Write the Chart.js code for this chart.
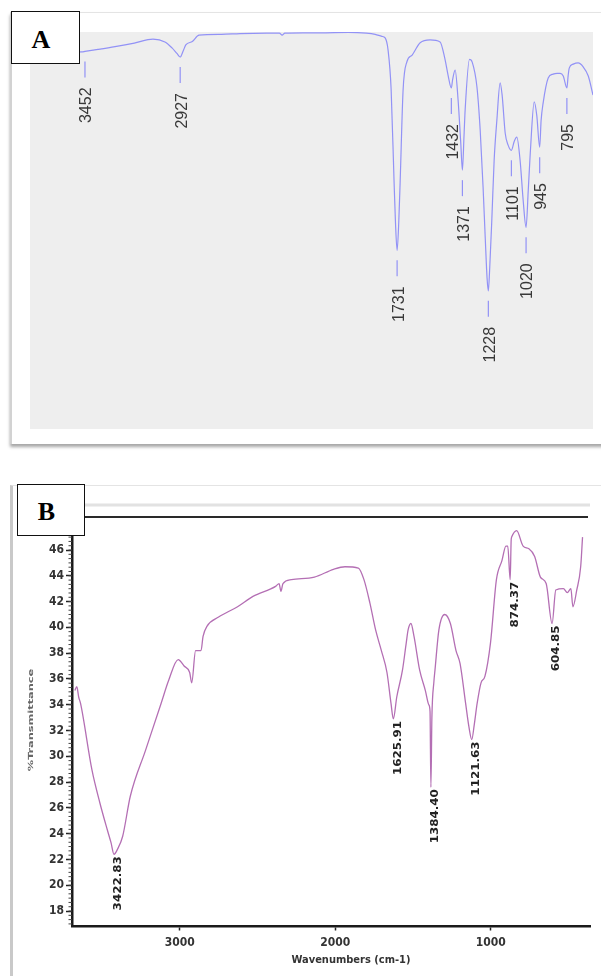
<!DOCTYPE html>
<html>
<head>
<meta charset="utf-8">
<script src="https://cdn.jsdelivr.net/npm/chart.js@4.4.1/dist/chart.umd.min.js"></script>
<style>
  html, body { margin: 0; padding: 0; background: #fff; overflow: hidden; }
  body { width: 601px; height: 976px; position: relative; }
  .card { position: absolute; background: #fff; }
  #cardA { left: 10px; top: 12px; width: 600px; height: 431px; border-top: 1px solid #e4e4e4; border-left: 2px solid #d2d2d2; box-shadow: 0 3px 3px rgba(0,0,0,0.35); }
  #cardB { left: 10px; top: 485px; width: 600px; height: 500px; border-top: 1px solid #e4e4e4; border-left: 3px solid #c9c9c9; }
  .tag { position: absolute; z-index: 5; background: #fff; border: 1.5px solid #111; box-sizing: border-box;
         font: bold 26px 'Liberation Serif', 'Times New Roman', serif; color: #000;
         display: flex; align-items: center; justify-content: center; padding-right: 9px; }
  #tagA { left: 11px; top: 11px; width: 69px; height: 53px; padding-top: 4px; }
  #tagB { left: 17px; top: 484px; width: 68px; height: 52px; padding-top: 4px; }
  #wrapA { position: absolute; left: 30px; top: 32px; width: 563px; height: 397px; background: #eeeeee; }
  #wrapB { position: absolute; left: 0; top: 490px; width: 601px; height: 486px; }
</style>
</head>
<body>
<div class="card" id="cardA"></div>
<div class="card" id="cardB"></div>
<div id="wrapA"><canvas id="chartA"></canvas></div>
<div id="wrapB"><canvas id="chartB"></canvas></div>
<div class="tag" id="tagA">A</div>
<div class="tag" id="tagB">B</div>

<script>
// Espectro A (transmitancia relativa, eje sin escala)
const wnA = [3755, 3600, 3468, 3452, 3380, 3286, 3180, 3077, 3011, 2972, 2945, 2927, 2910, 2895, 2860, 2823,
  2700, 2597, 2450, 2380, 2365, 2350, 2250, 2156, 2000, 1900, 1852, 1815, 1797, 1781, 1764, 1748, 1740, 1731,
  1722, 1714, 1698, 1677, 1648, 1604, 1549, 1494, 1466, 1450, 1432, 1425, 1411, 1395, 1380, 1371, 1362, 1356,
  1332, 1317, 1291, 1273, 1257, 1245, 1235, 1228, 1221, 1209, 1196, 1181, 1163, 1152, 1135, 1119, 1101, 1085,
  1071, 1053, 1036, 1020, 1008, 997, 975, 961, 945, 937, 926, 898, 871, 849, 832, 815, 795, 788, 782, 760,
  733, 705, 677, 651];
const tA = [94.7, 94.9, 95.0, 95.1, 95.6, 96.3, 97.2, 98.2, 97.5, 96.0, 94.6, 93.7, 95.3, 96.8, 97.6, 99.2,
  99.4, 99.6, 99.7, 99.7, 99.2, 99.7, 99.8, 99.8, 99.9, 99.7, 99.4, 98.9, 98.5, 95.5, 85.6, 62.6, 52.0, 45.0,
  52.0, 62.6, 85.4, 92.5, 94.2, 97.3, 98.0, 97.5, 92.9, 89.1, 85.9, 88.0, 90.4, 83.0, 72.0, 65.2, 74.0, 80.3,
  93.1, 92.4, 86.2, 75.3, 60.9, 48.0, 38.0, 34.8, 40.0, 52.5, 67.7, 77.8, 87.2, 84.1, 74.5, 71.5, 70.2, 72.5,
  73.5, 67.7, 57.6, 50.8, 60.1, 69.4, 82.4, 79.0, 71.0, 77.8, 82.1, 88.4, 89.4, 89.6, 89.6, 88.9, 85.9, 89.0,
  90.9, 91.9, 92.2, 91.2, 88.9, 84.1];
const peaksA = [3452, 2927, 1731, 1432, 1371, 1228, 1101, 1020, 945, 795];
const peakLabelsA = ['3452', '2927', '1731', '1432', '1371', '1228', '1101', '1020', '945', '795'];

// Espectro B (%T)
const wnB = [3675, 3662, 3650, 3638, 3564, 3514, 3466, 3442, 3422.83, 3400, 3367, 3318, 3219, 3120, 3071, 3010,
  2972, 2936, 2923, 2898, 2863, 2850, 2824, 2750, 2628, 2529, 2381, 2361, 2349, 2336, 2282, 2134, 2011, 1937,
  1851, 1815, 1777, 1740, 1703, 1667, 1641, 1625.91, 1604, 1567, 1543, 1531, 1513, 1493, 1457, 1420, 1398,
  1390, 1384.40, 1378, 1365, 1358, 1333, 1296, 1259, 1223, 1197, 1161, 1140, 1121.63, 1105, 1087, 1062, 1037,
  1001, 963, 927, 902, 890, 874.37, 868, 865, 833, 791, 754, 717, 680, 643, 604.85, 581, 532, 507, 484, 471,
  446, 421, 409];
const tB = [35.1, 35.4, 34.6, 34.1, 28.9, 26.4, 24.3, 23.3, 22.4, 22.8, 23.8, 26.9, 30.5, 34.1, 35.9, 37.5,
  37.0, 36.5, 35.7, 38.2, 38.2, 39.3, 40.1, 40.8, 41.6, 42.4, 43.2, 43.4, 42.8, 43.4, 43.7, 43.9, 44.5, 44.7,
  44.6, 43.7, 41.9, 39.8, 38.2, 36.5, 34.1, 32.9, 34.6, 36.7, 38.8, 39.8, 40.3, 39.3, 36.7, 35.1, 34.0,
  33.5, 27.6, 33.0, 35.8, 36.7, 39.8, 41.0, 40.3, 38.2, 37.2, 34.1, 32.3, 31.3, 32.5, 34.1, 35.7, 36.2,
  38.8, 43.7, 45.2, 46.3, 46.3, 43.7, 46.8, 47.0, 47.5, 46.3, 46.1, 45.5, 43.9, 43.4, 40.3, 42.9, 43.0, 42.7, 43.0, 41.6,
  42.9, 44.7, 47.0];
const peaksB = [3422.83, 1625.91, 1384.40, 1121.63, 874.37, 604.85];
const peakLabelsB = ['3422.83', '1625.91', '1384.40', '1121.63', '874.37', '604.85'];
const yTicksB = [18, 20, 22, 24, 26, 28, 30, 32, 34, 36, 38, 40, 42, 44, 46];
const xTicksB = [3000, 2000, 1000];

const narrow = "'Liberation Sans Narrow', 'DejaVu Sans Condensed', 'Liberation Sans', Arial, sans-serif";

// etiquetas giradas bajo cada pico
const peakLabels = {
  id: 'peakLabels',
  afterDatasetsDraw(chart, args, opts) {
    if (!opts.peaks) return;
    const ctx = chart.ctx, xs = chart.scales.x, ys = chart.scales.y;
    const pts = chart.data.datasets[0].data;
    ctx.save();
    opts.peaks.forEach((p, i) => {
      const pt = pts.find(d => d.x === p);
      const x = xs.getPixelForValue(p), y = ys.getPixelForValue(pt.y);
      if (opts.tick) {
        ctx.strokeStyle = opts.tickColor;
        ctx.lineWidth = 1.2;
        ctx.beginPath();
        ctx.moveTo(x, y + opts.tick[0]);
        ctx.lineTo(x, y + opts.tick[1]);
        ctx.stroke();
      }
      ctx.save();
      ctx.translate(x + opts.dx, y + opts.dy);
      ctx.rotate(-Math.PI / 2);
      ctx.scale(opts.stretch || 1, 1);
      ctx.font = opts.font;
      ctx.fillStyle = opts.color;
      ctx.textAlign = 'right';
      ctx.textBaseline = 'middle';
      ctx.fillText(opts.labels[i], 0, 0);
      ctx.restore();
    });
    ctx.restore();
  }
};

// marco del gráfico B: línea superior, subdivisiones, títulos
const frameB = {
  id: 'frameB',
  afterDraw(chart) {
    const ctx = chart.ctx, a = chart.chartArea, ys = chart.scales.y;
    ctx.save();
    ctx.strokeStyle = '#e2e2e2';
    ctx.lineWidth = 3;
    ctx.beginPath(); ctx.moveTo(85, 15); ctx.lineTo(a.right, 15); ctx.stroke();
    ctx.strokeStyle = '#2a2a2a';
    ctx.lineWidth = 2;
    ctx.beginPath(); ctx.moveTo(a.left, a.top); ctx.lineTo(a.right - 2, a.top); ctx.stroke();
    ctx.lineWidth = 1;
    ctx.strokeStyle = '#444';
    for (let v = 17; v < ys.max; v += 1 / 3) {
      const y = ys.getPixelForValue(v);
      ctx.beginPath(); ctx.moveTo(a.left - 3.5, y); ctx.lineTo(a.left, y); ctx.stroke();
    }
    ctx.fillStyle = '#333';
    ctx.font = 'bold 11px ' + narrow;
    ctx.textAlign = 'center';
    ctx.textBaseline = 'middle';
    ctx.fillText('Wavenumbers (cm-1)', 351, 470);
    ctx.save();
    ctx.translate(31, 230);
    ctx.rotate(-Math.PI / 2);
    ctx.scale(1.8, 1);
    ctx.fillStyle = '#666';
    ctx.font = 'bold 7px ' + narrow;
    ctx.fillText('%Transmittance', 0, 0);
    ctx.restore();
    ctx.restore();
  }
};

new Chart(document.getElementById('chartA'), {
  type: 'line',
  data: {
    datasets: [{
      data: wnA.map((w, i) => ({ x: w, y: tA[i] })),
      borderColor: '#9292f6',
      borderWidth: 1.2,
      pointRadius: 0,
      cubicInterpolationMode: 'monotone'
    }]
  },
  options: {
    responsive: true,
    maintainAspectRatio: false,
    animation: false,
    layout: { padding: 0 },
    scales: {
      x: { type: 'linear', reverse: true, min: 651, max: 3755, display: false },
      y: { min: 0, max: 100, display: false }
    },
    plugins: {
      legend: { display: false },
      tooltip: { enabled: false },
      peakLabels: {
        peaks: peaksA, labels: peakLabelsA, tick: [10, 26], tickColor: '#9292f6',
        dx: 2, dy: 36, font: "16px 'Liberation Sans', Arial, sans-serif", color: '#383838'
      }
    }
  },
  plugins: [peakLabels]
});

const tickFont = { family: narrow, size: 12, weight: 'bold' };

new Chart(document.getElementById('chartB'), {
  type: 'line',
  data: {
    datasets: [{
      data: wnB.map((w, i) => ({ x: w, y: tB[i] })),
      borderColor: '#b46fb4',
      borderWidth: 1.3,
      pointRadius: 0,
      cubicInterpolationMode: 'monotone'
    }]
  },
  options: {
    responsive: true,
    maintainAspectRatio: false,
    animation: false,
    layout: { padding: { top: 27, right: 11, left: 0, bottom: 0 } },
    scales: {
      x: {
        type: 'linear', reverse: true, min: 361, max: 3693,
        afterBuildTicks: s => { s.ticks = xTicksB.map(v => ({ value: v })); },
        afterFit: s => { s.height = 49.5; },
        grid: { drawOnChartArea: false, tickLength: 4, color: '#222', tickWidth: 1.5 },
        border: { color: '#1a1a1a', width: 2.5 },
        ticks: { font: tickFont, color: '#333', padding: 5, maxRotation: 0, callback: v => String(v) }
      },
      y: {
        min: 16.8, max: 48.56,
        afterBuildTicks: s => { s.ticks = yTicksB.map(v => ({ value: v })); },
        afterFit: s => { s.width = 72; },
        grid: { drawOnChartArea: false, tickLength: 6, color: '#222', tickWidth: 1.5 },
        border: { color: '#1a1a1a', width: 2.5 },
        ticks: { font: tickFont, color: '#333', padding: 2, autoSkip: false, callback: v => String(v) }
      }
    },
    plugins: {
      legend: { display: false },
      tooltip: { enabled: false },
      peakLabels: {
        peaks: peaksB, labels: peakLabelsB, dx: 4.5, dy: 2, stretch: 1.2,
        font: 'bold 11px ' + narrow, color: '#222'
      }
    }
  },
  plugins: [peakLabels, frameB]
});
</script>
</body>
</html>
